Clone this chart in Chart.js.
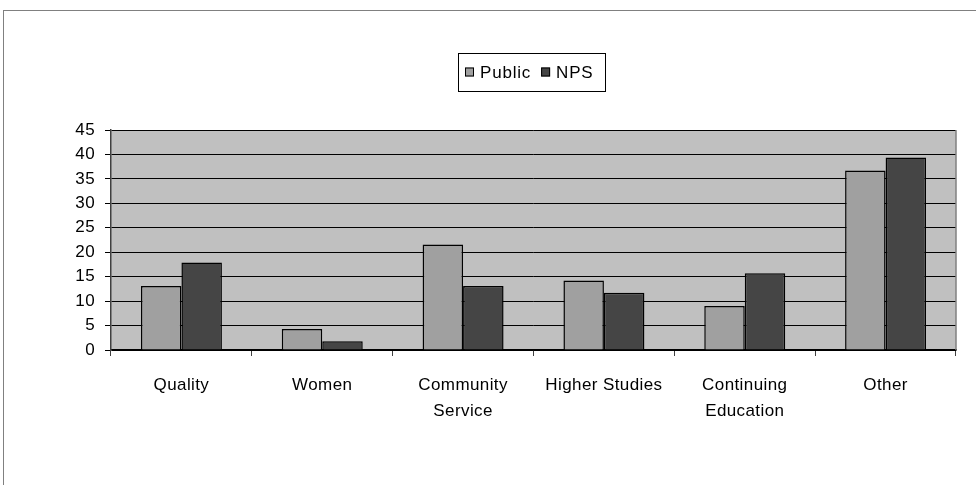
<!DOCTYPE html>
<html>
<head>
<meta charset="utf-8">
<script src="https://cdn.jsdelivr.net/npm/chart.js@4"></script>
<style>
  html, body { margin: 0; padding: 0; background: #fff; overflow: hidden; }
  #frame { position: absolute; left: 3px; top: 10px; width: 1200px; height: 700px; border: 1px solid #808080; }
  #wrap { position: absolute; left: 0; top: 0; width: 976px; height: 485px; }
</style>
</head>
<body>
<div id="frame"></div>
<div id="wrap"><canvas id="chart" width="976" height="485"></canvas></div>
<script>
const categories = ['Quality', 'Women', ['Community', 'Service'], 'Higher Studies', ['Continuing', 'Education'], 'Other'];
const publicValues = [13.1, 4.3, 21.6, 14.2, 9.0, 36.7];
const npsValues = [17.9, 1.8, 13.1, 11.7, 15.7, 39.4];
const yTicks = [0, 5, 10, 15, 20, 25, 30, 35, 40, 45];

const FONT = "'Liberation Sans', Arial, sans-serif";
const SPACING = '0.4px';

// plot background + letter spacing
const plotBg = {
    id: 'plotBg',
    beforeDraw(chart) {
        const ctx = chart.ctx;
        const a = chart.chartArea;
        ctx.letterSpacing = SPACING;
        ctx.save();
        ctx.fillStyle = '#c0c0c0';
        ctx.fillRect(a.left, a.top, a.right - a.left, a.bottom - a.top);
        ctx.restore();
    },
    afterDraw(chart) {
        const ctx = chart.ctx;
        const a = chart.chartArea;
        ctx.save();
        ctx.strokeStyle = '#808080';
        ctx.lineWidth = 1.5;
        ctx.beginPath();
        ctx.moveTo(a.right, a.top);
        ctx.lineTo(a.right, a.bottom);
        ctx.stroke();
        ctx.restore();
    }
};

// boxed legend like the original
const boxLegend = {
    id: 'boxLegend',
    afterDraw(chart) {
        const ctx = chart.ctx;
        ctx.save();
        ctx.letterSpacing = '0.8px';
        ctx.font = '17px ' + FONT;
        ctx.textBaseline = 'middle';
        const left = 458, top = 53, right = 605, bottom = 91;
        ctx.strokeStyle = '#000';
        ctx.lineWidth = 1;
        ctx.strokeRect(left + 0.5, top + 0.5, right - left, bottom - top);
        const cy = (top + bottom) / 2;
        let x = left + 7;
        chart.data.datasets.forEach(ds => {
            ctx.fillStyle = ds.backgroundColor;
            ctx.fillRect(x, cy - 4.5, 9, 9);
            ctx.strokeRect(x + 0.5, cy - 4.5 + 0.5, 8, 8);
            ctx.fillStyle = '#000';
            ctx.fillText(ds.label, x + 15, cy + 1);
            x += 15 + ctx.measureText(ds.label).width + 10;
        });
        ctx.restore();
    }
};

new Chart(document.getElementById('chart'), {
    type: 'bar',
    data: {
        labels: categories,
        datasets: [
            { label: 'Public', data: publicValues, backgroundColor: '#a0a0a0', borderColor: '#000', borderWidth: 1.5 },
            { label: 'NPS', data: npsValues, backgroundColor: '#454545', borderColor: '#000', borderWidth: 1.5 }
        ]
    },
    options: {
        responsive: false,
        animation: false,
        layout: { padding: { left: 0, right: 20, top: 130, bottom: 0 } },
        datasets: { bar: { categoryPercentage: 0.575, barPercentage: 1.0 } },
        plugins: { legend: { display: false }, tooltip: { enabled: false } },
        scales: {
            x: {
                afterFit: s => { s.height = 135; },
                grid: { offset: true, drawOnChartArea: false, tickLength: 6, color: '#404040' },
                border: { color: '#000', width: 1.5 },
                ticks: { color: '#000', padding: 17, maxRotation: 0, autoSkip: false, font: { family: FONT, size: 17, lineHeight: 1.5 } }
            },
            y: {
                min: 0,
                max: 45,
                afterFit: s => { s.width = 111; },
                afterBuildTicks: s => { s.ticks = yTicks.map(v => ({ value: v })); },
                grid: { color: '#000', lineWidth: 1, tickLength: 6 },
                border: { color: '#404040', width: 1.5 },
                ticks: { color: '#000', padding: 10, font: { family: FONT, size: 17 } }
            }
        }
    },
    plugins: [plotBg, boxLegend]
});
</script>
</body>
</html>
